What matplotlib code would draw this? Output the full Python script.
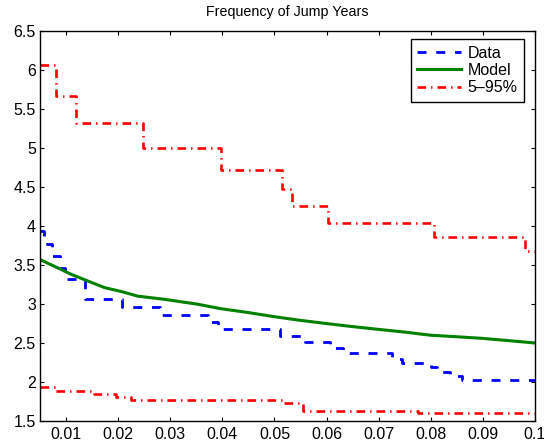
import numpy as np
import matplotlib
matplotlib.use("Agg")
import matplotlib.pyplot as plt
from matplotlib.ticker import FormatStrFormatter

plt.rcParams['font.family'] = ['Liberation Sans', 'DejaVu Sans']
plt.rcParams['lines.scale_dashes'] = False

# empirical frequency (step starts / levels)
data_x = [0.005, 0.0058, 0.0073, 0.0088, 0.0098, 0.0136, 0.0207, 0.0280, 0.0372, 0.0392,
          0.0511, 0.0559, 0.0607, 0.0632, 0.0725, 0.0745, 0.0800, 0.0812, 0.0837, 0.0860]
data_y = [3.94, 3.77, 3.61, 3.46, 3.32, 3.07, 2.96, 2.86, 2.77, 2.68,
          2.59, 2.51, 2.43, 2.37, 2.30, 2.24, 2.19, 2.13, 2.08, 2.02]

# model mean
model_x = [0.005, 0.0085, 0.011, 0.0136, 0.0174, 0.0206, 0.0238, 0.0289, 0.035, 0.0397,
           0.045, 0.0497, 0.055, 0.0599, 0.065, 0.0699, 0.075, 0.0799, 0.085, 0.0898, 0.095, 0.1]
model_y = [3.57, 3.46, 3.38, 3.31, 3.21, 3.16, 3.10, 3.06, 3.00, 2.94,
           2.89, 2.84, 2.79, 2.75, 2.71, 2.675, 2.64, 2.60, 2.58, 2.56, 2.53, 2.50]

# 95% band
hi_x = [0.005, 0.0081, 0.0119, 0.0248, 0.0397, 0.0514, 0.0534, 0.0603, 0.0806, 0.0981]
hi_y = [6.07, 5.67, 5.32, 5.00, 4.72, 4.47, 4.25, 4.04, 3.86, 3.68]

# 5% band
lo_x = [0.005, 0.0079, 0.0154, 0.0196, 0.0225, 0.0516, 0.0555, 0.0776]
lo_y = [1.94, 1.885, 1.84, 1.81, 1.765, 1.727, 1.63, 1.60]

x_end = 0.1


def stairs(xs, ys):
    return list(xs) + [x_end], list(ys) + [ys[-1]]


fig = plt.figure(figsize=(5.44, 4.44), dpi=100)
ax = fig.add_axes([40/544, 23/444, 495/544, 390/444])

X, Y = stairs(data_x, data_y)
ax.step(X, Y, where='post', color=(0, 0, 1), lw=2.0, dashes=(6.5, 7.0), label='Data')
ax.plot(model_x, model_y, color=(0, 0.5, 0), lw=2.2, label='Model')
X, Y = stairs(hi_x, hi_y)
ax.step(X, Y, where='post', color=(1, 0, 0), lw=1.9, dashes=(6.2, 3.6, 1.0, 3.6), label='5\u201395%')
X, Y = stairs(lo_x, lo_y)
ax.step(X, Y, where='post', color=(1, 0, 0), lw=1.9, dashes=(6.2, 3.6, 1.0, 3.6))

ax.set_xlim(0.005, 0.1)
ax.set_ylim(1.5, 6.5)
ax.set_xticks(np.arange(0.01, 0.1001, 0.01))
ax.set_yticks(np.arange(1.5, 6.51, 0.5))
ax.xaxis.set_major_formatter(FormatStrFormatter('%g'))
ax.yaxis.set_major_formatter(FormatStrFormatter('%g'))
ax.tick_params(direction='in', length=3, width=0.8, labelsize=11.5, top=True, right=True)
ax.tick_params(axis='x', pad=4)
ax.tick_params(axis='y', pad=3)
for s in ax.spines.values():
    s.set_linewidth(1.0)

ax.set_title('Frequency of Jump Years', fontsize=10.3, pad=11)

leg = ax.legend(loc='upper right', bbox_to_anchor=(0.978, 0.979), borderaxespad=0,
                fontsize=11.5, fancybox=False, framealpha=1, edgecolor='black',
                handlelength=2.75, handletextpad=0.4, labelspacing=0.15, borderpad=0.4)
leg.get_frame().set_linewidth(1.0)

fig.savefig('out.png', dpi=100)
